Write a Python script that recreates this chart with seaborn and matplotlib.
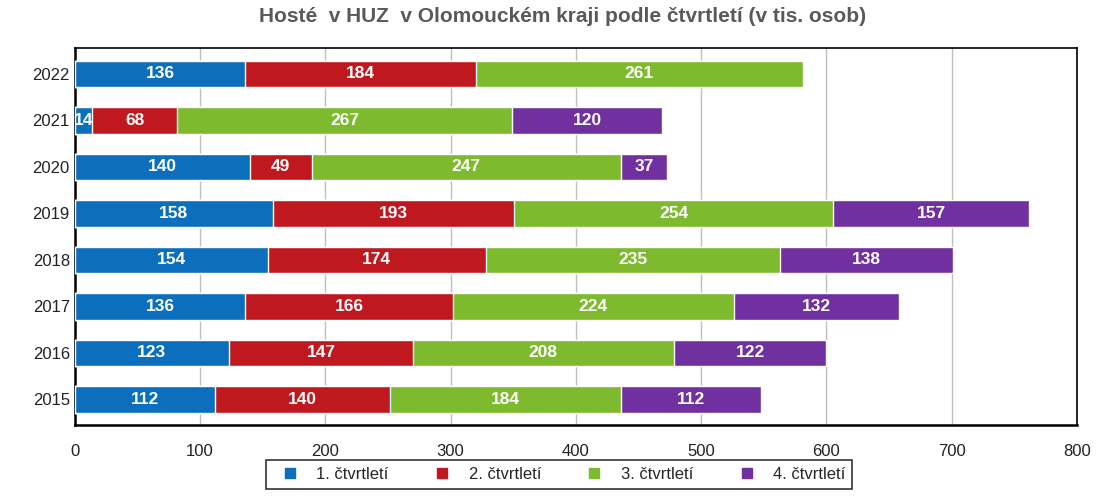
import numpy as np
import pandas as pd
import matplotlib
matplotlib.use("Agg")
import matplotlib.pyplot as plt
import seaborn as sns
from matplotlib.lines import Line2D

years = ['2022', '2021', '2020', '2019', '2018', '2017', '2016', '2015']
q1 = [136, 14, 140, 158, 154, 136, 123, 112]
q2 = [184, 68, 49, 193, 174, 166, 147, 140]
q3 = [261, 267, 247, 254, 235, 224, 208, 184]
q4 = [0, 120, 37, 157, 138, 132, 122, 112]

series = ['1. čtvrtletí', '2. čtvrtletí', '3. čtvrtletí', '4. čtvrtletí']
colors = ['#0C6FBE', '#C0181F', '#7DBA2E', '#7030A0']

sns.set_style('white')
plt.rcParams['font.family'] = ['Liberation Sans', 'DejaVu Sans']

vals = np.array([q1, q2, q3, q4], dtype=float)
cum = vals.cumsum(axis=0)

fig = plt.figure(figsize=(10.99, 4.97), dpi=100)
ax = fig.add_axes([0.068, 0.145, 0.912, 0.758])

# draw cumulative layers from largest to smallest so each segment shows
for i in range(3, -1, -1):
    df = pd.DataFrame({'year': years, 'value': cum[i]})
    sns.barplot(data=df, x='value', y='year', order=years, color=colors[i],
                orient='h', width=0.57, saturation=1, ax=ax, zorder=3)

# segment labels
for i in range(4):
    for j, y in enumerate(years):
        v = vals[i, j]
        if v <= 0:
            continue
        ax.text(cum[i, j] - v / 2, j, f'{int(v)}', ha='center', va='center',
                color='white', fontsize=12.5, fontweight='bold', zorder=5,
                clip_on=True)

ax.set_xlim(0, 800)
ax.set_xticks(range(0, 801, 100))
ax.set_ylim(7.55, -0.55)
ax.set_xlabel('')
ax.set_ylabel('')
ax.grid(axis='x', color='#BFBFBF', linewidth=1, zorder=0)
ax.set_axisbelow(True)
ax.tick_params(axis='both', labelsize=12, length=0, colors='#222222')
ax.tick_params(axis='x', pad=14)
for s in ax.spines.values():
    s.set_color('black')
    s.set_linewidth(1.2)
ax.spines['bottom'].set_linewidth(1.8)
ax.spines['left'].set_linewidth(1.8)

fig.suptitle('Hosté  v HUZ  v Olomouckém kraji podle čtvrtletí (v tis. osob)',
             x=0.512, y=0.985, fontsize=15, fontweight='bold', color='#595959')

handles = [Line2D([0], [0], marker='s', linestyle='', markersize=7,
                  markerfacecolor=c, markeredgecolor=c) for c in colors]
leg = fig.legend(handles, series, loc='lower center', bbox_to_anchor=(0.509, 0.0),
                 ncol=4, frameon=True, fontsize=12, handletextpad=0.6,
                 columnspacing=2.2, borderpad=0.4, fancybox=False)
leg.get_frame().set_edgecolor('black')
leg.get_frame().set_linewidth(1.2)

fig.savefig('out.png', dpi=100)
